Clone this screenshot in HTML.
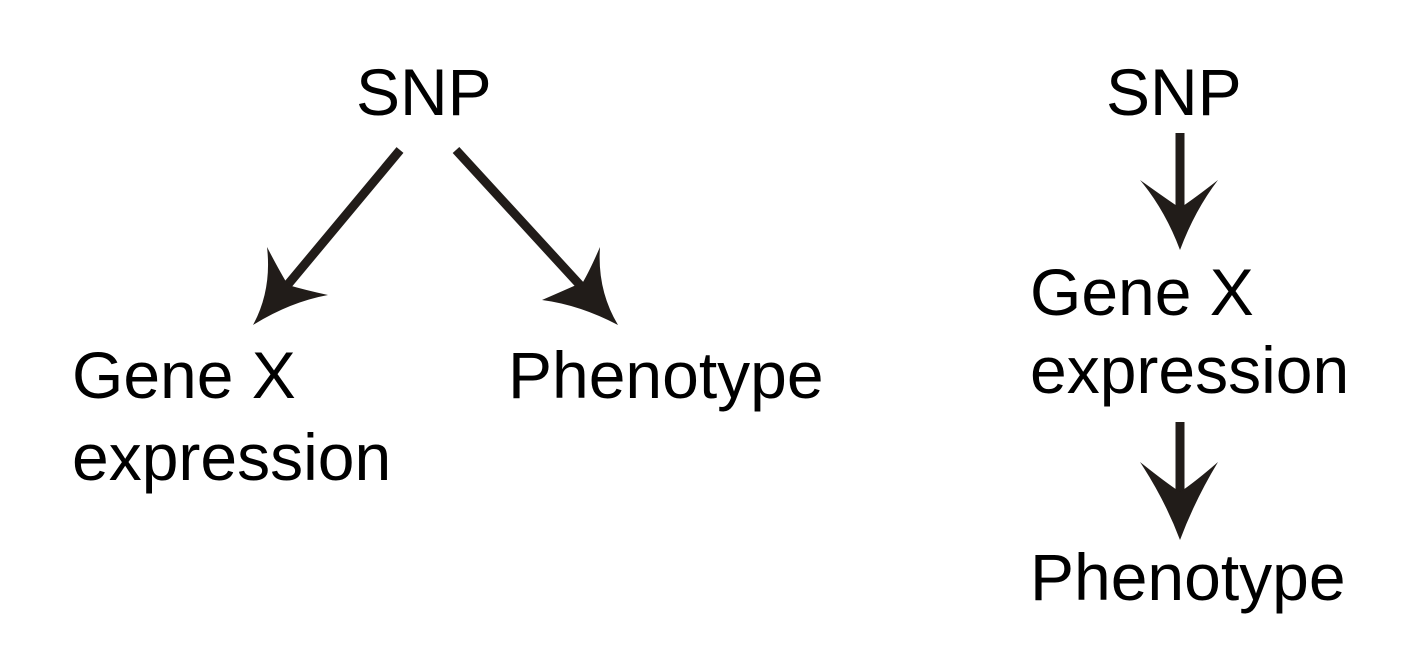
<!DOCTYPE html>
<html><head><style>html,body{margin:0;padding:0;background:#fff;}svg{display:block}</style></head>
<body>
<svg width="1426" height="658" viewBox="0 0 1426 658" xmlns="http://www.w3.org/2000/svg">
<g font-family="Liberation Sans, Arial, sans-serif" font-size="66" fill="#000">
<text x="356" y="115">SNP</text>
<text x="72" y="398">Gene X</text>
<text x="72" y="480">expression</text>
<text x="508" y="398">Phenotype</text>
<text x="1106" y="115">SNP</text>
<text x="1030" y="315">Gene X</text>
<text x="1030" y="393">expression</text>
<text x="1030" y="600">Phenotype</text>
</g>
<g stroke="#211c19" stroke-width="9" fill="none">
<line x1="400" y1="150" x2="280" y2="294"/>
<line x1="456" y1="150" x2="590" y2="296"/>
<line x1="1180" y1="133" x2="1180" y2="215"/>
<line x1="1180" y1="422" x2="1180" y2="500"/>
</g>
<g fill="#211c19">
<path d="M253,325 Q272,290 267,247 Q280,272 288,285 Q305,290 328,295 Q290,302 253,325Z"/>
<path d="M618,325 Q597,290 600,247 Q590,270 583,282 Q565,290 542,300 Q580,305 618,325Z"/>
<path d="M1180,250 Q1165,210 1140,180 Q1165,198 1180,208 Q1195,198 1218,180 Q1195,210 1180,250Z"/>
<path d="M1180,540 Q1165,500 1140,462 Q1165,482 1180,492 Q1195,482 1218,462 Q1195,500 1180,540Z"/>
</g>
</svg>
</body></html>
